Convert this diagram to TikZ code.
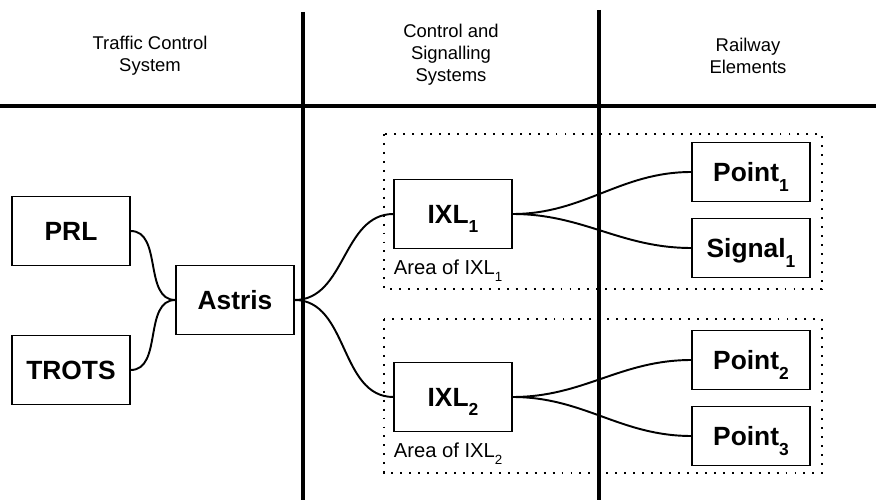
\documentclass[tikz,border=0pt]{standalone}
\usepackage{fontspec}
\setmainfont{Liberation Sans}

\newcommand{\lowsub}[1]{\smash{\raisebox{-0.36em}{\scalebox{0.66}{#1}}}}

\tikzset{
  sysbox/.style={draw, line width=0.6pt, minimum width=2.36cm, minimum height=1.38cm, inner sep=0pt,
    text depth=0pt, font=\fontsize{15}{18}\selectfont\bfseries},
  elembox/.style={sysbox, minimum height=1.18cm},
  link/.style={line width=1.1pt},
  divider/.style={line width=1.8pt},
  area/.style={line width=1.1pt, dash pattern=on 1.1pt off 4pt},
  header/.style={align=center, font=\fontsize{10.5}{12.5}\selectfont},
  arealabel/.style={inner sep=0pt, font=\fontsize{11.5}{13}\selectfont},
}

\begin{document}
\begin{tikzpicture}[x=0.02cm,y=-0.02cm]
    \useasboundingbox (0,0) rectangle (876,500);
    % columns
    \draw [divider] (0,106) -- (876,106);
    \draw [divider] (303,12) -- (303,500);
    \draw [divider] (599,10) -- (599,500);
    \node [header] (hdtraffic) at (150,56) {Traffic Control\\System};
    \node [header] (hdsignal) at (451,55) {Control and\\Signalling\\Systems};
    \node [header] (hdrail) at (748,56) {Railway\\Elements};
    % areas
    \draw [area] (384,134) rectangle (822,289);
    \draw [area] (384,319) rectangle (822,473);
    % boxes
    \node [sysbox] (prl) at (71,231) {PRL};
    \node [sysbox] (trots) at (71,370) {TROTS};
    \node [sysbox] (astris) at (235,300) {Astris};
    \node [sysbox] (ixla) at (453,214) {IXL\lowsub{1}};
    \node [sysbox] (ixlb) at (453,397) {IXL\lowsub{2}};
    \node [elembox] (pointa) at (751,172) {Point\lowsub{1}};
    \node [elembox] (signala) at (751,248) {Signal\lowsub{1}};
    \node [elembox] (pointb) at (751,360) {Point\lowsub{2}};
    \node [elembox] (pointc) at (751,436) {Point\lowsub{3}};
    \node [arealabel, anchor=north west] (areaa) at ([yshift=-6pt]ixla.south west) {Area of IXL\lowsub{1}};
    \node [arealabel, anchor=north west] (areab) at ([yshift=-6pt]ixlb.south west) {Area of IXL\lowsub{2}};
    % links
    \draw [link] (prl.east) to [out=0,in=180] (astris.west);
    \draw [link] (trots.east) to [out=0,in=180] (astris.west);
    \draw [link] (astris.east) to [out=0,in=180] (ixla.west);
    \draw [link] (astris.east) to [out=0,in=180] (ixlb.west);
    \draw [link] (ixla.east) to [out=0,in=180] (pointa.west);
    \draw [link] (ixla.east) to [out=0,in=180] (signala.west);
    \draw [link] (ixlb.east) to [out=0,in=180] (pointb.west);
    \draw [link] (ixlb.east) to [out=0,in=180] (pointc.west);
\end{tikzpicture}
\end{document}
